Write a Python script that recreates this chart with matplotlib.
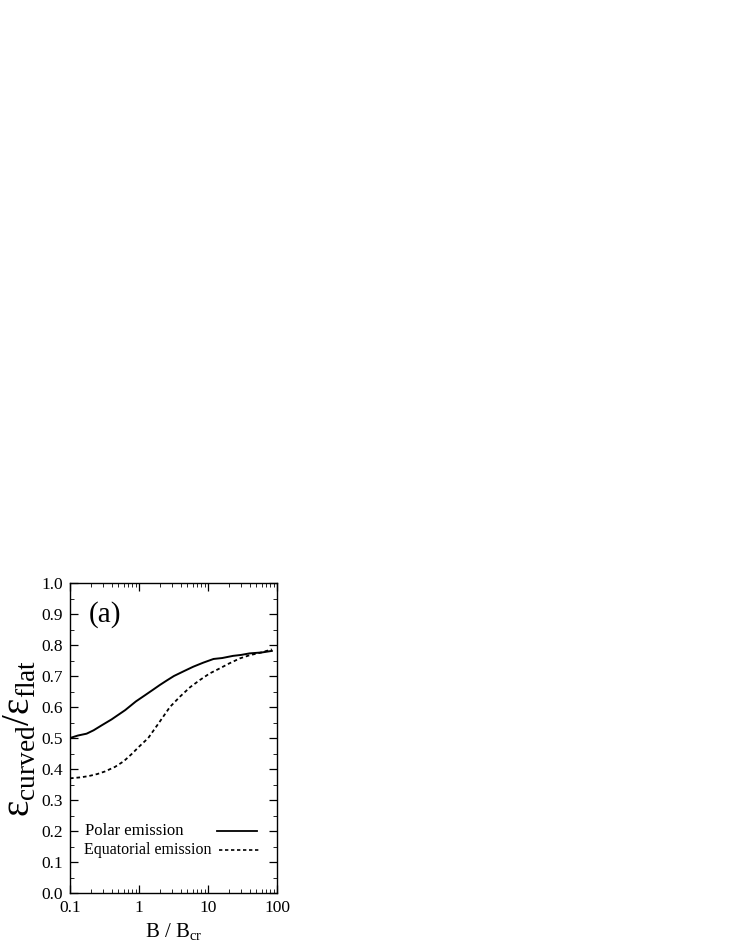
import matplotlib.pyplot as plt
from matplotlib.ticker import MultipleLocator, LogLocator, NullFormatter, FixedLocator

plt.rcParams['font.family'] = ['Liberation Serif', 'DejaVu Serif']
plt.rcParams['mathtext.fontset'] = 'custom'
plt.rcParams['mathtext.rm'] = 'Liberation Serif'

# data
b_polar = [0.1, 0.13, 0.174, 0.22, 0.288, 0.4, 0.63, 0.9, 1.22, 1.6, 2.0, 2.5, 3.2, 4.5, 6.1, 8.5, 12, 16, 23, 30, 40, 60, 84]
e_polar = [0.50, 0.508, 0.514, 0.525, 0.541, 0.56, 0.59, 0.618, 0.638, 0.656, 0.671, 0.685, 0.70, 0.716, 0.73, 0.743, 0.755, 0.758, 0.765, 0.768, 0.773, 0.776, 0.781]

b_equat = [0.1, 0.14, 0.185, 0.25, 0.32, 0.45, 0.6, 0.78, 1.0, 1.36, 2.0, 2.8, 3.9, 5.5, 7.6, 10.5, 14.9, 20, 29, 40, 57, 84]
e_equat = [0.37, 0.373, 0.377, 0.384, 0.392, 0.407, 0.425, 0.448, 0.472, 0.50, 0.553, 0.60, 0.633, 0.664, 0.687, 0.708, 0.725, 0.74, 0.757, 0.767, 0.775, 0.786]

fig = plt.figure(figsize=(7.33, 9.48), dpi=100)
ax = fig.add_axes([0.0955, 0.058, 0.2825, 0.327])

ax.plot(b_polar, e_polar, color='black', lw=1.4)
ax.plot(b_equat, e_equat, color='black', lw=1.3, ls=(0, (2.0, 1.6)))

ax.set_xscale('log')
ax.set_xlim(0.1, 100)
ax.set_ylim(0.0, 1.0)
ax.xaxis.set_major_locator(FixedLocator([0.1, 1, 10, 100]))
ax.set_xticklabels(['0.1', '1', '10', '100'])
ax.xaxis.set_minor_locator(LogLocator(base=10, subs=range(2, 10)))
ax.xaxis.set_minor_formatter(NullFormatter())
ax.yaxis.set_major_locator(MultipleLocator(0.1))
ax.yaxis.set_minor_locator(MultipleLocator(0.05))
ax.yaxis.set_major_formatter(plt.FormatStrFormatter('%.1f'))
ax.tick_params(which='both', direction='in', top=True, right=True, labelsize=12.5)
ax.tick_params(which='major', length=6, width=0.9, pad=5)
ax.tick_params(which='minor', length=3, width=0.6)
for s in ax.spines.values():
    s.set_linewidth(1.0)

ax.text(0.09, 0.875, '(a)', transform=ax.transAxes, fontsize=21)

# legend, drawn by hand to keep the left-aligned labels
ax.text(0.072, 0.2, 'Polar emission', transform=ax.transAxes, fontsize=12, va='center')
ax.text(0.068, 0.14, 'Equatorial emission', transform=ax.transAxes, fontsize=11.5, va='center')
ax.plot([0.71, 0.905], [0.2, 0.2], transform=ax.transAxes, color='black', lw=1.3)
ax.plot([0.72, 0.915], [0.14, 0.14], transform=ax.transAxes, color='black', lw=1.2, ls=(0, (2.0, 1.6)))

ax.set_xlabel(r'B / B$_{\rm cr}$', fontsize=15, labelpad=4)
ax.set_ylabel(r'ε$_{\rm curved}$/ε$_{\rm flat}$', fontsize=28, labelpad=2)

fig.savefig('out.png', dpi=100)
